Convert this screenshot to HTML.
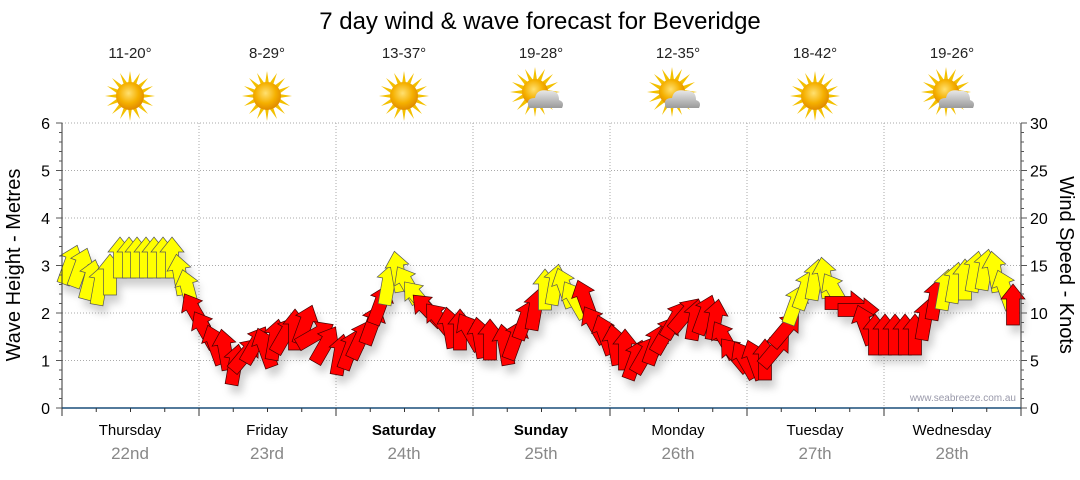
<!DOCTYPE html>
<html><head><meta charset="utf-8">
<style>
body{margin:0;background:#fff;width:1080px;height:475px;overflow:hidden;font-family:"Liberation Sans",sans-serif}
</style></head><body>
<svg id="s" width="1080" height="475" xmlns="http://www.w3.org/2000/svg" font-family="Liberation Sans, sans-serif">
<defs>
<filter id="sh" x="-50%" y="-50%" width="200%" height="200%"><feGaussianBlur stdDeviation="4"/></filter>
<radialGradient id="sun" cx="45%" cy="40%" r="60%"><stop offset="0" stop-color="#ffe070"/><stop offset="0.6" stop-color="#f5b000"/><stop offset="1" stop-color="#e08a00"/></radialGradient>
<linearGradient id="cl" x1="0" y1="0" x2="0" y2="1"><stop offset="0" stop-color="#e8e8e8"/><stop offset="1" stop-color="#9a9a9a"/></linearGradient>
<g id="rays"><g fill="#f3c000">
<polygon points="0,-25 2,-12 -2,-12"/><polygon points="0,25 2,12 -2,12"/><polygon points="-25,0 -12,2 -12,-2"/><polygon points="25,0 12,2 12,-2"/>
<polygon points="18,-18 10,-7 7,-10"/><polygon points="-18,-18 -10,-7 -7,-10"/><polygon points="18,18 10,7 7,10"/><polygon points="-18,18 -10,7 -7,10"/>
<polygon points="10,-23 6,-11 2,-12"/><polygon points="-10,-23 -6,-11 -2,-12"/><polygon points="10,23 6,11 2,12"/><polygon points="-10,23 -6,11 -2,12"/>
<polygon points="23,-10 11,-6 12,-2"/><polygon points="-23,-10 -11,-6 -12,-2"/><polygon points="23,10 11,6 12,2"/><polygon points="-23,10 -11,6 -12,2"/>
</g></g>
<g id="sunny"><use href="#rays"/><circle r="14" fill="url(#sun)"/></g>
<g id="cloudy"><use href="#rays" transform="translate(-6,-4)"/><circle cx="-6" cy="-4" r="13" fill="url(#sun)"/>
<path d="M-12,12 Q-16,2 -6,2 Q-4,-8 8,-5 Q18,-6 18,4 Q24,6 21,12 Z" fill="url(#cl)"/></g>
</defs>
<text x="540" y="29" font-size="24" text-anchor="middle" fill="#000">7 day wind &amp; wave forecast for Beveridge</text>
<g font-size="15" text-anchor="middle" fill="#222">
<text x="130" y="58">11-20°</text><text x="267" y="58">8-29°</text><text x="404" y="58">13-37°</text><text x="541" y="58">19-28°</text><text x="678" y="58">12-35°</text><text x="815" y="58">18-42°</text><text x="952" y="58">19-26°</text>
</g>
<use href="#sunny" x="130" y="96"/><use href="#sunny" x="267" y="96"/><use href="#sunny" x="404" y="96"/><use href="#cloudy" x="541" y="96"/><use href="#cloudy" x="678" y="96"/><use href="#sunny" x="815" y="96"/><use href="#cloudy" x="952" y="96"/>
<g id="grid" stroke="#aaa" stroke-dasharray="1,2" stroke-width="1"></g>
<g id="arrows"></g>
<g id="axes"></g>
<text transform="translate(20,265) rotate(-90)" font-size="20" text-anchor="middle">Wave Height - Metres</text>
<text transform="translate(1060,265) rotate(90)" font-size="20" text-anchor="middle">Wind Speed - Knots</text>
<text x="1016" y="401" font-size="10" fill="#99a" text-anchor="end">www.seabreeze.com.au</text>
<g font-size="15" text-anchor="middle">
<text x="130" y="435">Thursday</text><text x="267" y="435">Friday</text><text x="404" y="435" font-weight="bold">Saturday</text><text x="541" y="435" font-weight="bold">Sunday</text><text x="678" y="435">Monday</text><text x="815" y="435">Tuesday</text><text x="952" y="435">Wednesday</text>
</g>
<g font-size="17" text-anchor="middle" fill="#888">
<text x="130" y="459">22nd</text><text x="267" y="459">23rd</text><text x="404" y="459">24th</text><text x="541" y="459">25th</text><text x="678" y="459">26th</text><text x="815" y="459">27th</text><text x="952" y="459">28th</text>
</g>
</svg>
<script>
var NS="http://www.w3.org/2000/svg";
function el(p,t,a){var e=document.createElementNS(NS,t);for(var k in a)e.setAttribute(k,a[k]);p.appendChild(e);return e;}
var g=document.getElementById('grid'),ax=document.getElementById('axes');
var x0=62,x1=1021,y0=408,yt=123;
for(var i=1;i<=6;i++){var y=y0-i*47.5;el(g,'line',{x1:x0,x2:x1,y1:y,y2:y});}
for(var d=1;d<7;d++){var x=x0+d*137;el(g,'line',{x1:x,x2:x,y1:yt,y2:y0});}
el(ax,'line',{x1:x0,x2:x0,y1:yt,y2:y0,stroke:'#333'});
el(ax,'line',{x1:x1,x2:x1,y1:yt,y2:y0,stroke:'#333'});
el(ax,'line',{x1:x0,x2:x1,y1:y0,y2:y0,stroke:'#1a4f7a','stroke-width':1.5});
for(var i=0;i<=30;i++){var y=y0-i*9.5,l=i%5==0?6:3;
el(ax,'line',{x1:x0-l,x2:x0,y1:y,y2:y,stroke:'#555'});el(ax,'line',{x1:x1,x2:x1+l,y1:y,y2:y,stroke:'#555'});}
for(var i=0;i<=6;i++){var t=el(ax,'text',{x:50,y:y0-i*47.5+6,'font-size':16,'text-anchor':'end'});t.textContent=i;}
for(var i=0;i<=6;i++){var t=el(ax,'text',{x:1030,y:y0-i*47.5+6,'font-size':16});t.textContent=i*5;}
for(var i=0;i<=28;i++){var x=x0+i*34.25;el(ax,'line',{x1:x,x2:x,y1:y0,y2:y0+(i%4==0?8:4),stroke:'#333'});}
var D=[[70,265,20,1],[80,268,20,1],[90,280,15,1],[100,285,10,1],[110,275,0,1],[120,258,0,1],[129,258,0,1],[137,258,0,1],[146,258,0,1],[154,258,0,1],[163,258,0,1],[172,258,0,1],[180,275,-10,1],[188,290,-15,1],
[195,312,-30,0],[205,330,-30,0],[215,345,-20,0],[225,350,-10,0],[235,365,10,0],[245,355,40,0],[255,345,30,0],[265,348,-20,0],[275,340,10,0],[285,335,30,0],[295,330,0,0],[305,325,20,0],[315,335,60,0],[325,345,30,0],[340,355,10,0],[350,350,20,0],[360,340,25,0],[372,325,20,0],[380,305,20,0],
[388,285,10,1],[398,272,-10,1],[408,285,-30,1],[418,298,-40,1],
[428,310,-45,0],[440,320,-40,0],[450,328,-10,0],[460,330,0,0],[470,332,-30,0],[480,338,-10,0],[490,340,0,0],[505,345,-10,0],[515,340,20,0],[525,320,20,0],[535,310,10,0],
[545,290,0,1],[555,285,10,1],[565,288,-20,1],[575,300,-30,1],
[585,300,-20,0],[595,325,-30,0],[605,335,-20,0],[615,345,-10,0],[625,350,0,0],[635,360,20,0],[645,355,30,0],[655,345,20,0],[665,335,30,0],[675,320,30,0],[685,315,40,0],[695,320,10,0],[705,315,20,0],[715,320,10,0],[725,340,-30,0],[735,355,-40,0],[745,360,-30,0],[755,360,-20,0],[765,360,0,0],[775,350,40,0],[785,330,40,0],
[795,305,20,1],[805,290,20,1],[815,280,10,1],[825,278,-10,1],[835,292,-30,1],
[845,303,90,0],[858,310,90,0],[865,325,-20,0],[875,335,0,0],[885,335,0,0],[895,335,0,0],[905,335,0,0],[915,335,0,0],[925,320,10,0],[935,300,10,0],
[945,290,10,1],[955,283,10,1],[965,280,0,1],[975,272,10,1],[985,270,10,1],[995,272,-10,1],[1005,290,-20,1],[1013,305,0,0]];
var A=document.getElementById('arrows');
var P="0,-21 12,-6 6.5,-6 6.5,20 -6.5,20 -6.5,-6 -12,-6";
var sg=el(A,'g',{filter:'url(#sh)',opacity:0.35});
D.forEach(function(p){el(sg,'polygon',{points:P,fill:'#777',transform:'translate('+(p[0]+4)+','+(p[1]+8)+') rotate('+p[2]+')'});});
D.forEach(function(p){el(A,'polygon',{points:P,fill:p[3]?'#ffff00':'#ff0000',stroke:p[3]?'#555':'#400',"stroke-width":0.7,transform:'translate('+p[0]+','+p[1]+') rotate('+p[2]+')'});});
</script>
</body></html>
